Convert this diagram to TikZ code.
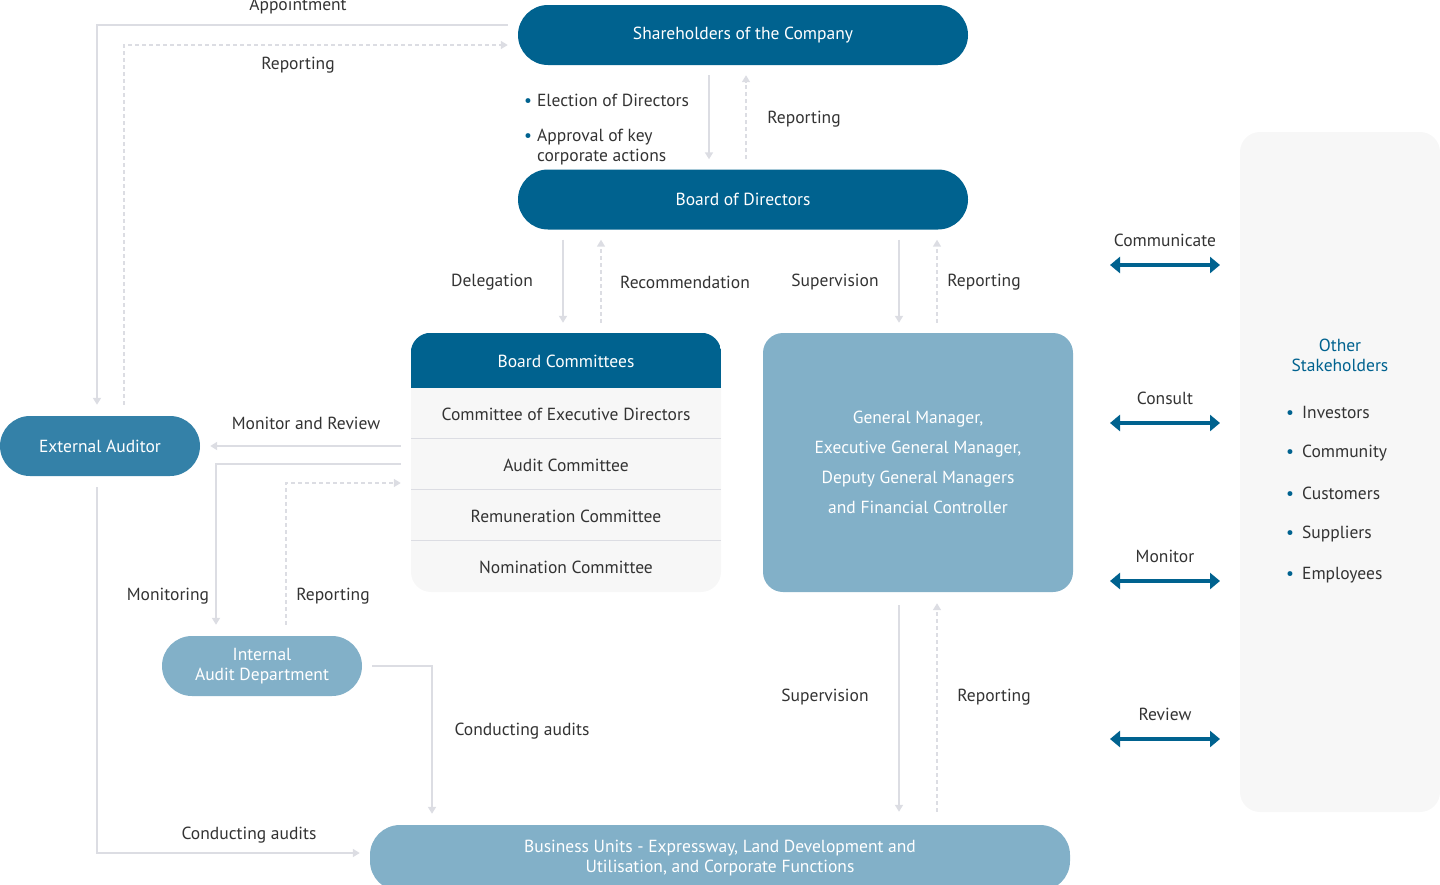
\documentclass[tikz,border=0pt]{standalone}
\usepackage{fontspec}
\setmainfont{PT Sans}
\usetikzlibrary{arrows.meta,positioning}

\definecolor{navy}{HTML}{00628F}
\definecolor{steel}{HTML}{3481A8}
\definecolor{skyblue}{HTML}{82B0C8}
\definecolor{linegray}{HTML}{DCDDE3}
\definecolor{panelgray}{HTML}{F7F7F7}
\definecolor{txt}{HTML}{333333}

\begin{document}
\begin{tikzpicture}[x=1pt,y=-1pt,font=\fontsize{17.5}{20}\selectfont,
  pill/.style={rectangle,rounded corners=30pt,minimum height=60pt,inner sep=0pt,
    text=white,align=center},
  lbl/.style={text=txt,inner sep=0pt,align=left},
  link/.style={draw=linegray,line width=2pt,-{Triangle[length=7pt,width=8pt]}},
  back/.style={draw=linegray,line width=1.5pt,dash pattern=on 4pt off 3pt,
    -{Triangle[length=7pt,width=8pt]}},
  twoway/.style={draw=navy,line width=4pt,
    {Triangle[length=10pt,width=16pt]}-{Triangle[length=10pt,width=16pt]}}]
   \useasboundingbox (0,0) rectangle (1440,884);

   % main boxes
   \node[pill,fill=navy,minimum width=450pt]   (share) at (743,35)    {Shareholders of the Company};
   \node[pill,fill=navy,minimum width=450pt]   (board) at (743,199.5) {Board of Directors};
   \node[pill,fill=steel,minimum width=200pt]  (ext)   at (100,446)   {External Auditor};
   \node[pill,fill=skyblue,minimum width=200pt](ia)    at (262,666)   {Internal\\Audit Department};
   \node[pill,fill=skyblue,minimum width=700pt,minimum height=66pt] (bu) at (720,858)
        {Business Units - Expressway, Land Development and\\Utilisation, and Corporate Functions};
   \node[fill=skyblue,rounded corners=20pt,minimum width=310pt,minimum height=259pt,
        text=white,align=center,font=\fontsize{17.5}{30}\selectfont] (gm) at (918,462.5)
        {General Manager,\\Executive General Manager,\\Deputy General Managers\\and Financial Controller};

   % board committees
   \node[fill=panelgray,rounded corners=20pt,minimum width=310pt,minimum height=259pt] (bc) at (566,462.5) {};
   \begin{scope}
     \clip[rounded corners=20pt] (bc.south west) rectangle (bc.north east);
     \fill[navy] (bc.north west) rectangle (721,388);
   \end{scope}
   \node[text=white] (bchead) at (566,361) {Board Committees};
   \node[lbl] (coed)  at (566,414) {Committee of Executive Directors};
   \node[lbl] (audit) at (566,465) {Audit Committee};
   \node[lbl] (remun) at (566,516) {Remuneration Committee};
   \node[lbl] (nomin) at (566,567) {Nomination Committee};
   \foreach \y in {438.5,489.5,540.5}
     \draw[linegray,line width=1pt] (411,\y) -- (721,\y);

   % other stakeholders
   \node[fill=panelgray,rounded corners=20pt,minimum width=200pt,minimum height=680pt] (others) at (1340,472) {};
   \node[text=navy,align=center,inner sep=0pt] (otitle) at (1340,355) {Other\\Stakeholders};
   \foreach \who [count=\i] in {Investors,Community,Customers,Suppliers,Employees}
     \node[lbl,anchor=west] (who\i) at (1286,{412+40.8*(\i-1)}) {\textcolor{navy}{•}\hspace{8pt}\who};

   % two-way arrows
   \foreach \act/\y in {Communicate/265,Consult/423,Monitor/581,Review/739} {
     \coordinate (tl\y) at (1110,\y);
     \coordinate (tr\y) at (1220,\y);
     \draw[twoway] (tl\y) -- (tr\y);
     \node[lbl] (act\y) at (1165,\y-25) {\act};
   }

   % connectors
   \draw[link] ([xshift=-10pt,yshift=10pt]share.west) -| ([xshift=-3pt,yshift=11pt]ext.north);
   \draw[back] ([xshift=24pt,yshift=11pt]ext.north) |- ([xshift=-10pt,yshift=-10pt]share.west);
   \draw[link] ([xshift=-34pt,yshift=-10pt]share.south) -- ([xshift=-34pt,yshift=10pt]board.north);
   \draw[back] ([xshift=3pt,yshift=10pt]board.north) -- ([xshift=3pt,yshift=-10pt]share.south);
   \draw[link] ([xshift=-180pt,yshift=-10pt]board.south) -- ([xshift=-3pt,yshift=10pt]bc.north);
   \draw[back] ([xshift=35pt,yshift=10pt]bc.north) -- ([xshift=-142pt,yshift=-10pt]board.south);
   \draw[link] ([xshift=156pt,yshift=-10pt]board.south) -- ([xshift=-19pt,yshift=10pt]gm.north);
   \draw[back] ([xshift=19pt,yshift=10pt]gm.north) -- ([xshift=194pt,yshift=-10pt]board.south);
   \draw[link] ([xshift=-10pt]bc.west |- ext.east) -- ([xshift=10pt]ext.east);
   \draw[link] ([xshift=-10pt,yshift=-1.5pt]bc.west) -| ([xshift=-46pt,yshift=11pt]ia.north);
   \draw[back] ([xshift=24pt,yshift=11pt]ia.north) |- ([xshift=-10pt,yshift=-20.5pt]bc.west);
   \draw[link] ([xshift=10pt]ia.east) -| ([xshift=-288pt,yshift=11pt]bu.north);
   \draw[link] ([xshift=-3pt,yshift=-11pt]ext.south) |- ([xshift=-10pt,yshift=5pt]bu.west);
   \draw[link] ([xshift=-19pt,yshift=-13pt]gm.south) -- ([xshift=179pt,yshift=13pt]bu.north);
   \draw[back] ([xshift=217pt,yshift=13pt]bu.north) -- ([xshift=19pt,yshift=-11pt]gm.south);

   % labels
   \node[lbl] (lappoint) at (298,6)   {Appointment};
   \node[lbl] (lrep1)    at (298,65)  {Reporting};
   \node[lbl,anchor=west] (lelect) at (524,100) {\textcolor{navy}{•}\hspace{5pt}Election of Directors};
   \node[lbl,anchor=west] (lapprov) at (524,147) {\textcolor{navy}{•}\hspace{5pt}\begin{tabular}[t]{@{}l@{}}Approval of key\\[0pt]corporate actions\end{tabular}};
   \node[lbl] (lrep2)    at (804,119) {Reporting};
   \node[lbl] (ldeleg)   at (492,282) {Delegation};
   \node[lbl] (lrecom)   at (685,282) {Recommendation};
   \node[lbl] (lsuper1)  at (835,282) {Supervision};
   \node[lbl] (lrep3)    at (984,282) {Reporting};
   \node[lbl] (lmonrev)  at (306,423) {Monitor and Review};
   \node[lbl] (lmonit)   at (168,596) {Monitoring};
   \node[lbl] (lrep4)    at (333,596) {Reporting};
   \node[lbl] (lcond1)   at (522,731) {Conducting audits};
   \node[lbl] (lcond2)   at (249,835) {Conducting audits};
   \node[lbl] (lsuper2)  at (825,697) {Supervision};
   \node[lbl] (lrep5)    at (994,697) {Reporting};
\end{tikzpicture}
\end{document}
